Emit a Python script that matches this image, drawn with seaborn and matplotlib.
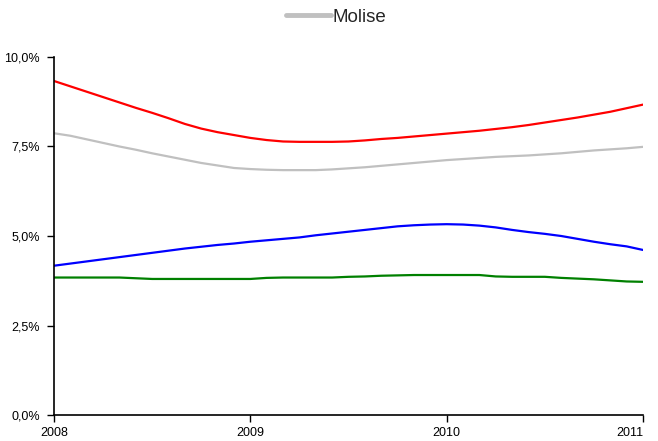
import numpy as np
import pandas as pd
import matplotlib
matplotlib.use("Agg")
import matplotlib.pyplot as plt
import seaborn as sns
from matplotlib.ticker import FuncFormatter
from matplotlib.lines import Line2D

months = list(range(37))  # monthly from Jan 2008 to Jan 2011
red_vals = [9.33, 9.18, 9.03, 8.88, 8.73, 8.58, 8.44, 8.29, 8.13, 8.00, 7.90, 7.82,
            7.74, 7.68, 7.64, 7.63, 7.63, 7.63, 7.64, 7.67, 7.71, 7.74, 7.78, 7.82,
            7.86, 7.90, 7.94, 7.99, 8.04, 8.10, 8.17, 8.24, 8.31, 8.39, 8.47, 8.57, 8.67]
molise_vals = [7.87, 7.80, 7.70, 7.60, 7.50, 7.41, 7.31, 7.22, 7.13, 7.04, 6.97, 6.90,
               6.87, 6.85, 6.84, 6.84, 6.84, 6.86, 6.89, 6.92, 6.96, 7.00, 7.04, 7.08,
               7.12, 7.15, 7.18, 7.21, 7.23, 7.25, 7.28, 7.31, 7.35, 7.39, 7.42, 7.45, 7.49]
blue_vals = [4.17, 4.23, 4.29, 4.35, 4.41, 4.47, 4.53, 4.59, 4.65, 4.70, 4.75, 4.79,
             4.84, 4.88, 4.92, 4.96, 5.02, 5.07, 5.12, 5.17, 5.22, 5.27, 5.30, 5.32,
             5.33, 5.32, 5.29, 5.24, 5.17, 5.11, 5.06, 5.00, 4.92, 4.84, 4.77, 4.71, 4.61]
green_vals = [3.84, 3.84, 3.84, 3.84, 3.84, 3.82, 3.80, 3.80, 3.80, 3.80, 3.80, 3.80,
              3.80, 3.83, 3.84, 3.84, 3.84, 3.84, 3.86, 3.87, 3.89, 3.90, 3.91, 3.91,
              3.91, 3.91, 3.91, 3.87, 3.86, 3.86, 3.86, 3.83, 3.81, 3.79, 3.76, 3.73, 3.72]

series_names = ["Serie A", "Molise", "Serie B", "Serie C"]
series_colors = ["#ff0000", "#c0c0c0", "#0000ff", "#008000"]
x_ticks = [2008, 2009, 2010, 2011]
y_ticks = [0, 2.5, 5.0, 7.5, 10.0]

x_vals = [2008 + m / 12 for m in months]
frames = []
for name, vals in zip(series_names, [red_vals, molise_vals, blue_vals, green_vals]):
    frames.append(pd.DataFrame({"x": x_vals, "y": vals, "serie": name}))
df = pd.concat(frames, ignore_index=True)

sns.set_style("white")
plt.rcParams['font.family'] = ['Liberation Sans', 'DejaVu Sans']

fig = plt.figure(figsize=(6.58, 4.41), dpi=100)
ax = fig.add_axes([54/658, 1 - 415/441, (643-54)/658, (415-57)/441])

sns.lineplot(data=df, x="x", y="y", hue="serie", hue_order=series_names,
             palette=dict(zip(series_names, series_colors)), linewidth=1.6, ax=ax, legend=False)

ax.set_xlim(2008, 2011)
ax.set_ylim(0, 10)
ax.set_xticks(x_ticks)
ax.set_xticklabels([str(t) for t in x_ticks])
ax.set_yticks(y_ticks)
ax.yaxis.set_major_formatter(FuncFormatter(lambda v, p: f"{v:.1f}%".replace(".", ",")))
ax.set_xlabel("")
ax.set_ylabel("")
for s in ["top", "right"]:
    ax.spines[s].set_visible(False)
for s in ["left", "bottom"]:
    ax.spines[s].set_color("black")
    ax.spines[s].set_linewidth(1.2)
ax.tick_params(axis="both", direction="out", length=5, width=1, colors="black",
               labelsize=9, bottom=True, left=True)
ax.tick_params(axis="y", pad=5)
ax.tick_params(axis="x", pad=4)
xlabels = ax.get_xticklabels()
xlabels[-1].set_horizontalalignment("right")
xlabels[-1].set_x(2011)

handle = Line2D([0], [0], color="#c0c0c0", lw=3.5)
fig.legend([handle], ["Molise"], loc="center", bbox_to_anchor=(0.511, 0.961),
           frameon=False, fontsize=13.5, handlelength=2.4, handletextpad=0.1)

fig.savefig("out.png", dpi=100)
